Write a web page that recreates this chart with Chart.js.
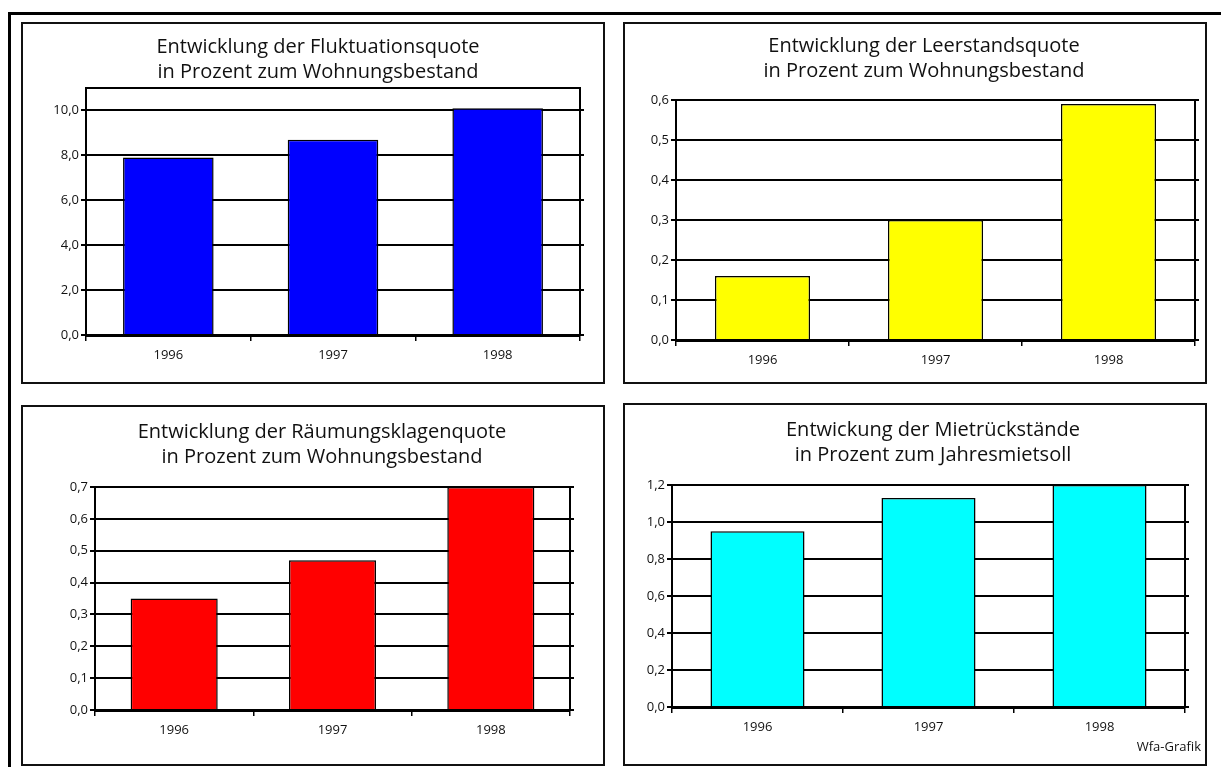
<!DOCTYPE html>
<html>
<head>
<meta charset="utf-8">
<title>Wohnungswirtschaftliche Kennzahlen 1996–1998</title>
<script src="https://cdn.jsdelivr.net/npm/chart.js@4.4.1/dist/chart.umd.min.js"></script>
<style>
  html, body { margin: 0; padding: 0; background: #fff; }
  body { width: 1221px; height: 767px; position: relative; overflow: hidden; font-family: "Open Sans", sans-serif; }
  .rule-top  { position: absolute; left: 8px; top: 12px; width: 1213px; height: 3px; background: #000; }
  .rule-left { position: absolute; left: 8px; top: 12px; width: 3px; height: 755px; background: #000; }
  .panel { position: absolute; box-sizing: border-box; border: 2px solid #111; background: #fff; }
  .panel canvas { position: absolute; left: 0; top: 0; }
</style>
</head>
<body>
<div class="rule-top"></div>
<div class="rule-left"></div>
<div class="panel" id="p1"><canvas id="c1"></canvas></div>
<div class="panel" id="p2"><canvas id="c2"></canvas></div>
<div class="panel" id="p3"><canvas id="c3"></canvas></div>
<div class="panel" id="p4"><canvas id="c4"></canvas></div>

<script>
// ---- data ----
const years = ['1996', '1997', '1998'];

const fluktuationsquote   = [7.9, 8.7, 10.1];   // % of housing stock
const leerstandsquote     = [0.16, 0.30, 0.59]; // % of housing stock
const raeumungsklagequote = [0.35, 0.47, 0.70]; // % of housing stock
const mietrueckstaende    = [0.95, 1.13, 1.20]; // % of annual rent target

const titleFluktuation = ['Entwicklung der Fluktuationsquote', 'in Prozent zum Wohnungsbestand'];
const titleLeerstand   = ['Entwicklung der Leerstandsquote', 'in Prozent zum Wohnungsbestand'];
const titleRaeumung    = ['Entwicklung der Räumungsklagenquote', 'in Prozent zum Wohnungsbestand'];
const titleMiete       = ['Entwickung der Mietrückstände', 'in Prozent zum Jahresmietsoll'];

const sourceNote = 'Wfa-Grafik';

// ---- layout (page pixels) ----
const FONT = '"Open Sans", "DejaVu Sans", sans-serif';
const BORDER = 2;

const panels = [
  { id: 1, data: fluktuationsquote,   title: titleFluktuation, color: '#0000ff', max: 11,  step: 2,
    box: { x: 21,  y: 22,  w: 584, h: 362 }, plot: { l: 86,  t: 88,  r: 580,  b: 335 }, titleCx: 318, titleY: 47 },
  { id: 2, data: leerstandsquote,     title: titleLeerstand,   color: '#ffff00', max: 0.6, step: 0.1,
    box: { x: 623, y: 22,  w: 584, h: 362 }, plot: { l: 676, t: 100, r: 1195, b: 340 }, titleCx: 924, titleY: 46 },
  { id: 3, data: raeumungsklagequote, title: titleRaeumung,    color: '#ff0000', max: 0.7, step: 0.1,
    box: { x: 21,  y: 405, w: 584, h: 361 }, plot: { l: 95,  t: 487, r: 570,  b: 710 }, titleCx: 322, titleY: 432 },
  { id: 4, data: mietrueckstaende,    title: titleMiete,       color: '#00ffff', max: 1.2, step: 0.2,
    box: { x: 623, y: 403, w: 584, h: 363 }, plot: { l: 672, t: 485, r: 1185, b: 707 }, titleCx: 933, titleY: 430,
    note: { text: sourceNote, right: 1201, y: 747 } }
];

const X_AXIS_H = 32;

// draws the plot frame, the two-line heading and an optional source note
const panelDecor = {
  id: 'panelDecor',
  beforeDatasetsDraw(chart) {
    const { ctx, chartArea: a } = chart;
    ctx.save();
    ctx.strokeStyle = '#000';
    ctx.lineWidth = 2;
    ctx.strokeRect(a.left, a.top, a.right - a.left, a.bottom - a.top);
    ctx.restore();
  },
  afterDraw(chart, args, opts) {
    const { ctx } = chart;
    ctx.save();
    ctx.fillStyle = '#111';
    ctx.textAlign = 'center';
    ctx.textBaseline = 'middle';
    ctx.font = '20px ' + FONT;
    opts.lines.forEach((line, i) => ctx.fillText(line, opts.cx, opts.y + i * 25));
    if (opts.note) {
      ctx.font = '13px ' + FONT;
      ctx.textAlign = 'right';
      ctx.fillText(opts.note.text, opts.note.x, opts.note.y);
    }
    ctx.restore();
  }
};

const fmt = v => Number(v).toFixed(1).replace('.', ',');

panels.forEach(p => {
  const el = document.getElementById('p' + p.id);
  el.style.left = p.box.x + 'px';
  el.style.top = p.box.y + 'px';
  el.style.width = p.box.w + 'px';
  el.style.height = p.box.h + 'px';

  const ox = p.box.x + BORDER, oy = p.box.y + BORDER;
  const W = p.box.w - 2 * BORDER, H = p.box.h - 2 * BORDER;
  const canvas = document.getElementById('c' + p.id);
  canvas.width = W; canvas.height = H;
  canvas.style.width = W + 'px'; canvas.style.height = H + 'px';

  const padLeft = 4;
  const yAxisW = (p.plot.l - ox) - padLeft;
  const padRight = W - (p.plot.r - ox);
  const padTop = p.plot.t - oy;
  const padBottom = H - (p.plot.b - oy) - X_AXIS_H;

  new Chart(canvas, {
    type: 'bar',
    data: {
      labels: years,
      datasets: [{
        data: p.data,
        backgroundColor: p.color,
        borderColor: '#000',
        borderWidth: 1.5,
        barPercentage: 0.55,
        categoryPercentage: 1.0
      }]
    },
    options: {
      responsive: false,
      animation: false,
      events: [],
      layout: { padding: { left: padLeft, right: padRight, top: padTop, bottom: padBottom } },
      plugins: {
        legend: { display: false },
        tooltip: { enabled: false },
        title: { display: false },
        panelDecor: {
          lines: p.title,
          cx: p.titleCx - ox,
          y: p.titleY - oy,
          note: p.note ? { text: p.note.text, x: p.note.right - ox, y: p.note.y - oy } : null
        }
      },
      scales: {
        x: {
          afterFit: s => { s.height = X_AXIS_H; },
          border: { display: true, color: '#000', width: 3 },
          grid: { display: true, offset: true, drawOnChartArea: false, drawTicks: true,
                  tickLength: 6, color: '#000', lineWidth: 1.5 },
          ticks: { color: '#111', padding: 6, font: { family: FONT, size: 13 } }
        },
        y: {
          min: 0,
          max: p.max,
          afterFit: s => { s.width = yAxisW; },
          border: { display: true, color: '#000', width: 2 },
          grid: { color: '#000', lineWidth: 2, drawTicks: true, tickLength: 5 },
          ticks: { stepSize: p.step, includeBounds: false, color: '#111', padding: 2,
                   font: { family: FONT, size: 13 }, callback: fmt }
        },
        // short tick stubs on the right edge of the plot frame
        yRight: {
          position: 'right',
          min: 0,
          max: p.max,
          afterFit: s => { s.width = 0; },
          border: { display: false },
          grid: { drawOnChartArea: false, drawTicks: true, tickLength: 4, color: '#000', lineWidth: 2 },
          ticks: { stepSize: p.step, includeBounds: false, display: false }
        }
      }
    },
    plugins: [panelDecor]
  });
});
</script>
</body>
</html>
